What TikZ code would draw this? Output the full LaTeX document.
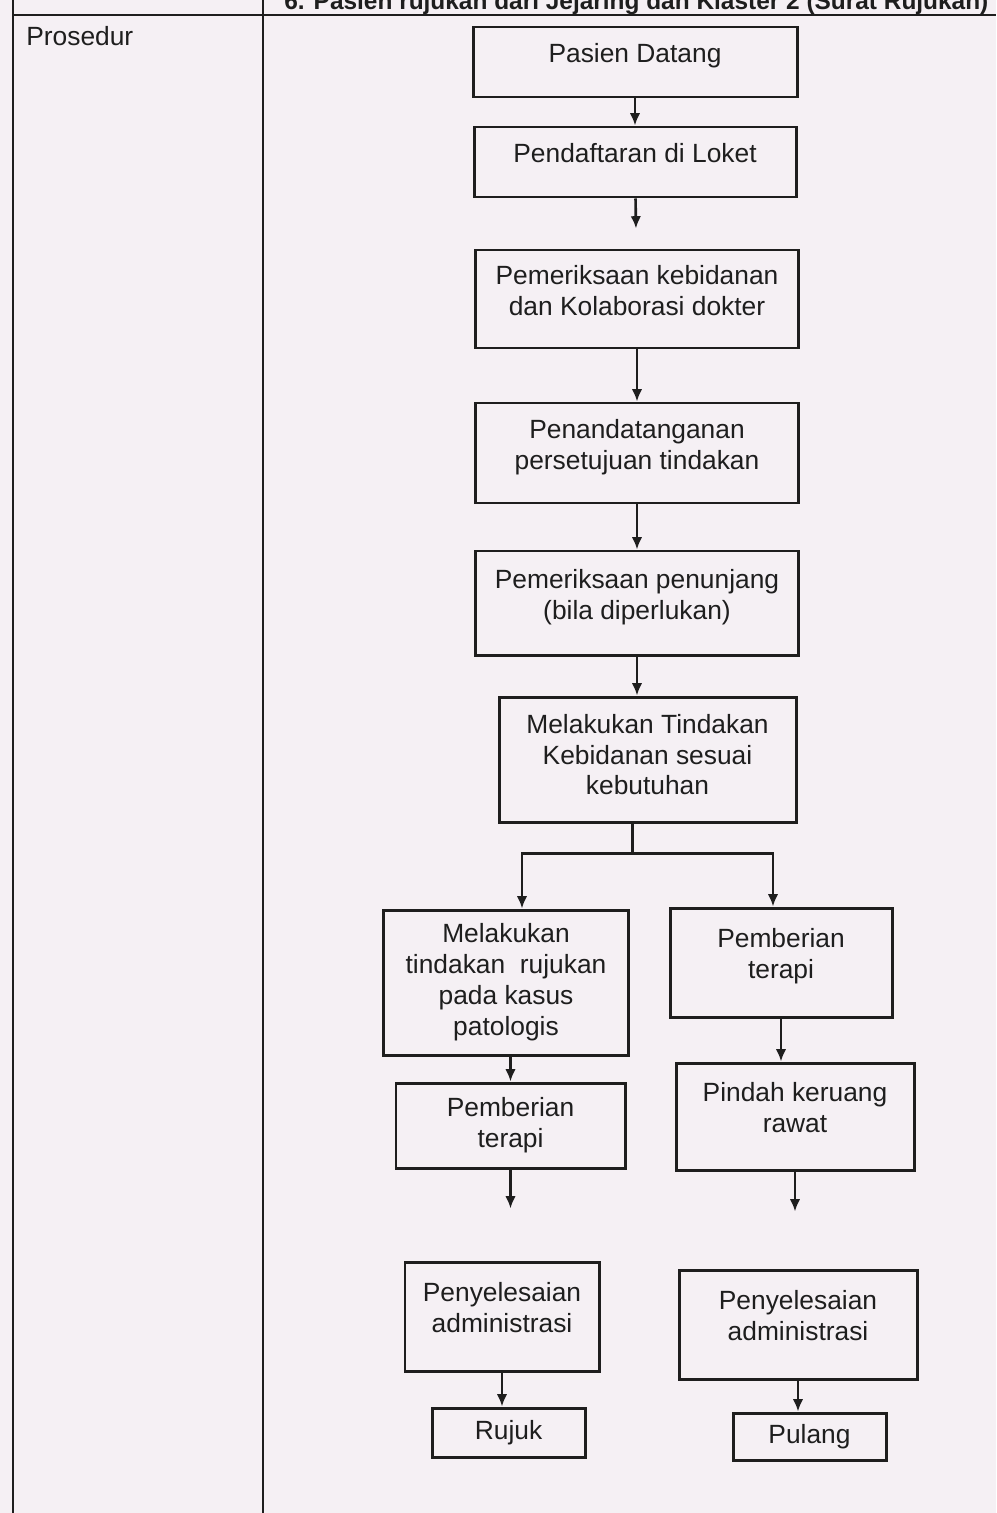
\documentclass[tikz,border=0pt]{standalone}
\usepackage{fontspec}
\setsansfont{Liberation Sans}
\usepackage{tikz}
\usetikzlibrary{arrows,arrows.meta,positioning}
\definecolor{kertas}{RGB}{245,240,244}
\definecolor{tinta}{RGB}{30,30,30}

\begin{document}
\begin{tikzpicture}[->,>={Latex[length=7pt,width=6pt]},auto,node distance=2cm,line width=1.5pt,draw=tinta,
                    proc node/.style={rectangle,draw=tinta,line width=1.7pt,align=center,inner sep=2pt,text=tinta,
                                      text depth=0.35cm,font=\sffamily\fontsize{15}{17.6}\selectfont},
                    end node/.style={proc node,text depth={}}]
% Page and table frame
\fill[kertas] (0,0) rectangle (19.92,-30.26);
\path[use as bounding box] (0,0) rectangle (19.92,-30.26);
\clip (0,0) rectangle (19.92,-30.26);
\draw[-,line width=1.4pt] (0.26,0) -- (0.26,-30.26);
\draw[-,line width=1.4pt] (5.26,0) -- (5.26,-30.26);
\draw[-,line width=1.6pt] (0.26,-0.30) -- (19.92,-0.30);
\node[anchor=base west,inner sep=0pt,text=tinta,font=\sffamily\bfseries\fontsize{13.9}{16}\selectfont] (judul) at (5.66,-0.19)
  {6. Pasien rujukan dari  Jejaring dan Klaster 2 (Surat Rujukan)};
\node[anchor=base west,inner sep=0pt,text=tinta,font=\sffamily\fontsize{15}{17.6}\selectfont] (prosedur) at (0.50,-0.92) {Prosedur};

% Create nodes for the flow
\node[proc node,minimum width=6.48cm,minimum height=1.40cm] (datang) at (12.70,-1.24) {Pasien Datang};
\node[proc node,minimum width=6.44cm,minimum height=1.40cm] (loket) [node distance=2.00cm,below of=datang] {Pendaftaran di Loket};
\node[proc node,minimum width=6.46cm,minimum height=1.96cm] (periksa) [node distance=2.74cm,below of=loket,xshift=0.04cm] {Pemeriksaan kebidanan\\dan Kolaborasi dokter};
\node[proc node,minimum width=6.46cm,minimum height=2.00cm] (ttd) [node distance=3.08cm,below of=periksa] {Penandatanganan\\persetujuan tindakan};
\node[proc node,minimum width=6.46cm,minimum height=2.08cm] (penunjang) [node distance=3.00cm,below of=ttd] {Pemeriksaan penunjang\\(bila diperlukan)};
\node[proc node,minimum width=5.94cm,minimum height=2.50cm,text depth=0.2cm] (tindakan) [node distance=3.13cm,below of=penunjang,xshift=0.21cm] {Melakukan Tindakan\\Kebidanan sesuai\\kebutuhan};
\node[proc node,minimum width=4.90cm,minimum height=2.90cm,text depth={}] (rujukan) [node distance=4.46cm,below of=tindakan,xshift=-2.83cm] {Melakukan\\tindakan\ \ rujukan\\pada kasus\\patologis};
\node[proc node,minimum width=4.44cm,minimum height=2.18cm] (terapikanan) [node distance=4.06cm,below of=tindakan,xshift=2.67cm] {Pemberian\\terapi};
\node[proc node,minimum width=4.58cm,minimum height=1.70cm,text depth={}] (terapikiri) [node distance=2.86cm,below of=rujukan,xshift=0.09cm] {Pemberian\\terapi};
\node[proc node,minimum width=4.76cm,minimum height=2.14cm] (pindah) [node distance=3.08cm,below of=terapikanan,xshift=0.28cm] {Pindah keruang\\rawat};
\node[proc node,minimum width=3.88cm,minimum height=2.18cm] (adminkiri) [node distance=3.82cm,below of=terapikiri,xshift=-0.17cm] {Penyelesaian\\administrasi};
\node[proc node,minimum width=4.76cm,minimum height=2.18cm] (adminkanan) [node distance=4.16cm,below of=pindah,xshift=0.06cm] {Penyelesaian\\administrasi};
\node[end node,minimum width=3.06cm,minimum height=0.98cm] (rujuk) [node distance=2.32cm,below of=adminkiri,xshift=0.13cm] {Rujuk};
\node[end node,minimum width=3.06cm,minimum height=0.94cm] (pulang) [node distance=2.24cm,below of=adminkanan,xshift=0.23cm] {Pulang};

% Branch point and loose arrow ends
\coordinate (cabang) at ([xshift=-0.30cm,yshift=-0.60cm]tindakan.south);
\coordinate (ujungkiri) at ([yshift=-0.78cm]terapikiri.south);
\coordinate (ujungkanan) at ([yshift=-0.80cm]pindah.south);

% Create edges for the flow
\path (datang) edge (loket)
      (loket) edge [shorten >=0.40cm] (periksa)
      (periksa) edge (ttd)
      (ttd) edge (penunjang)
      (penunjang.south) edge (penunjang.south |- tindakan.north)
      (rujukan.south -| terapikiri.north) edge (terapikiri.north)
      (terapikanan.south) edge (terapikanan.south |- pindah.north)
      (terapikiri.south) edge (ujungkiri)
      (pindah.south) edge (ujungkanan)
      (adminkiri.south) edge (adminkiri.south |- rujuk.north)
      (adminkanan.south) edge (adminkanan.south |- pulang.north);
\draw[-] (tindakan.south -| cabang) -- (cabang);
\draw (cabang) -| ([xshift=0.32cm]rujukan.north);
\draw (cabang) -| ([xshift=-0.16cm]terapikanan.north);
\end{tikzpicture}
\end{document}
